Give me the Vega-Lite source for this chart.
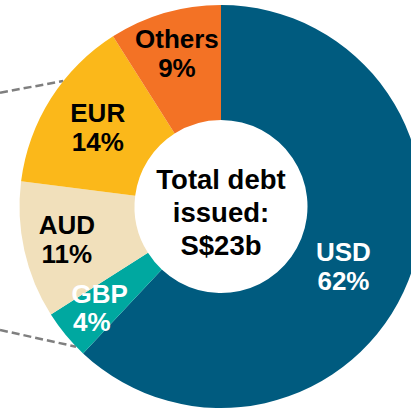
{
  "$schema": "https://vega.github.io/schema/vega-lite/v6.json",
  "width": 411,
  "height": 409,
  "autosize": "none",
  "padding": 0,
  "background": "white",
  "config": {"view": {"stroke": null}, "text": {"font": "Liberation Sans", "fontWeight": "bold"}},
  "datasets": {
    "debt": [
      {"currency": "USD", "share": 0.62, "rank": 1},
      {"currency": "GBP", "share": 0.04, "rank": 2},
      {"currency": "AUD", "share": 0.11, "rank": 3},
      {"currency": "EUR", "share": 0.14, "rank": 4},
      {"currency": "Others", "share": 0.09, "rank": 5}
    ],
    "connectors": [
      {"x": 0, "y": 92.7, "x2": 63.3, "y2": 81},
      {"x": 0, "y": 330, "x2": 76, "y2": 346.7}
    ],
    "centre": [{"label": "total"}]
  },
  "layer": [
    {
      "data": {"name": "connectors"},
      "mark": {"type": "rule", "color": "#7f7f7f", "strokeWidth": 2.5, "strokeDash": [8, 4]},
      "encoding": {
        "x": {"field": "x", "type": "quantitative", "scale": {"domain": [0, 411], "nice": false, "zero": false}, "axis": null},
        "y": {"field": "y", "type": "quantitative", "scale": {"domain": [0, 409], "nice": false, "zero": false, "reverse": true}, "axis": null},
        "x2": {"field": "x2"},
        "y2": {"field": "y2"}
      }
    },
    {
      "data": {"name": "debt"},
      "mark": {"type": "arc", "outerRadius": 201.5, "innerRadius": 86.5, "strokeWidth": 0},
      "encoding": {
        "x": {"datum": 221, "type": "quantitative"},
        "y": {"datum": 206.5, "type": "quantitative"},
        "theta": {"field": "share", "type": "quantitative", "stack": true},
        "order": {"field": "rank", "type": "quantitative"},
        "color": {
          "field": "currency", "type": "nominal", "legend": null,
          "scale": {"domain": ["USD", "GBP", "AUD", "EUR", "Others"], "range": ["#005b7f", "#00a8a0", "#f1e0bb", "#fbb81a", "#f37225"]}
        }
      }
    },
    {
      "data": {"name": "debt"},
      "mark": {"type": "text", "fontSize": 26, "radius": 158, "dy": -14.5},
      "encoding": {
        "x": {"datum": 221, "type": "quantitative"},
        "y": {"datum": 206.5, "type": "quantitative"},
        "theta": {"field": "share", "type": "quantitative", "stack": true},
        "order": {"field": "rank", "type": "quantitative"},
        "text": {"field": "currency"},
        "color": {"value": "black"},
        "opacity": {"condition": {"test": "indexof(['Others','AUD'], datum.currency) >= 0", "value": 1}, "value": 0}
      }
    },
    {
      "data": {"name": "debt"},
      "mark": {"type": "text", "fontSize": 26, "radius": 158, "dy": 14.5},
      "encoding": {
        "x": {"datum": 221, "type": "quantitative"},
        "y": {"datum": 206.5, "type": "quantitative"},
        "theta": {"field": "share", "type": "quantitative", "stack": true},
        "order": {"field": "rank", "type": "quantitative"},
        "text": {"field": "share", "format": ".0%"},
        "color": {"value": "black"},
        "opacity": {"condition": {"test": "indexof(['Others','AUD'], datum.currency) >= 0", "value": 1}, "value": 0}
      }
    },
    {
      "data": {"name": "debt"},
      "mark": {"type": "text", "fontSize": 26, "radius": 160, "dx": 2, "dy": -13},
      "encoding": {
        "x": {"datum": 221, "type": "quantitative"},
        "y": {"datum": 206.5, "type": "quantitative"},
        "theta": {"field": "share", "type": "quantitative", "stack": true},
        "order": {"field": "rank", "type": "quantitative"},
        "text": {"field": "currency"},
        "color": {"value": "white"},
        "opacity": {"condition": {"test": "datum.currency === 'GBP'", "value": 1}, "value": 0}
      }
    },
    {
      "data": {"name": "debt"},
      "mark": {"type": "text", "fontSize": 26, "radius": 160, "dx": -6, "dy": 15},
      "encoding": {
        "x": {"datum": 221, "type": "quantitative"},
        "y": {"datum": 206.5, "type": "quantitative"},
        "theta": {"field": "share", "type": "quantitative", "stack": true},
        "order": {"field": "rank", "type": "quantitative"},
        "text": {"field": "share", "format": ".0%"},
        "color": {"value": "white"},
        "opacity": {"condition": {"test": "datum.currency === 'GBP'", "value": 1}, "value": 0}
      }
    },
    {
      "data": {"name": "debt"},
      "mark": {"type": "text", "fontSize": 26, "radius": 146, "dy": -14.5},
      "encoding": {
        "x": {"datum": 221, "type": "quantitative"},
        "y": {"datum": 206.5, "type": "quantitative"},
        "theta": {"field": "share", "type": "quantitative", "stack": true},
        "order": {"field": "rank", "type": "quantitative"},
        "text": {"field": "currency"},
        "color": {"value": "black"},
        "opacity": {"condition": {"test": "datum.currency === 'EUR'", "value": 1}, "value": 0}
      }
    },
    {
      "data": {"name": "debt"},
      "mark": {"type": "text", "fontSize": 26, "radius": 146, "dy": 14.5},
      "encoding": {
        "x": {"datum": 221, "type": "quantitative"},
        "y": {"datum": 206.5, "type": "quantitative"},
        "theta": {"field": "share", "type": "quantitative", "stack": true},
        "order": {"field": "rank", "type": "quantitative"},
        "text": {"field": "share", "format": ".0%"},
        "color": {"value": "black"},
        "opacity": {"condition": {"test": "datum.currency === 'EUR'", "value": 1}, "value": 0}
      }
    },
    {
      "data": {"name": "debt"},
      "mark": {"type": "text", "fontSize": 26, "radius": 136, "dx": -4, "dy": -3.5},
      "encoding": {
        "x": {"datum": 221, "type": "quantitative"},
        "y": {"datum": 206.5, "type": "quantitative"},
        "theta": {"field": "share", "type": "quantitative", "stack": true},
        "order": {"field": "rank", "type": "quantitative"},
        "text": {"field": "currency"},
        "color": {"value": "white"},
        "opacity": {"condition": {"test": "datum.currency === 'USD'", "value": 1}, "value": 0}
      }
    },
    {
      "data": {"name": "debt"},
      "mark": {"type": "text", "fontSize": 26, "radius": 136, "dx": -4, "dy": 25},
      "encoding": {
        "x": {"datum": 221, "type": "quantitative"},
        "y": {"datum": 206.5, "type": "quantitative"},
        "theta": {"field": "share", "type": "quantitative", "stack": true},
        "order": {"field": "rank", "type": "quantitative"},
        "text": {"field": "share", "format": ".0%"},
        "color": {"value": "white"},
        "opacity": {"condition": {"test": "datum.currency === 'USD'", "value": 1}, "value": 0}
      }
    },
    {
      "data": {"name": "centre"},
      "mark": {"type": "text", "fontSize": 27.5, "lineHeight": 33, "dy": -26, "color": "black"},
      "encoding": {
        "x": {"datum": 221, "type": "quantitative"},
        "y": {"datum": 206.5, "type": "quantitative"},
        "text": {"value": ["Total debt", "issued:", "S$23b"]}
      }
    }
  ]
}
